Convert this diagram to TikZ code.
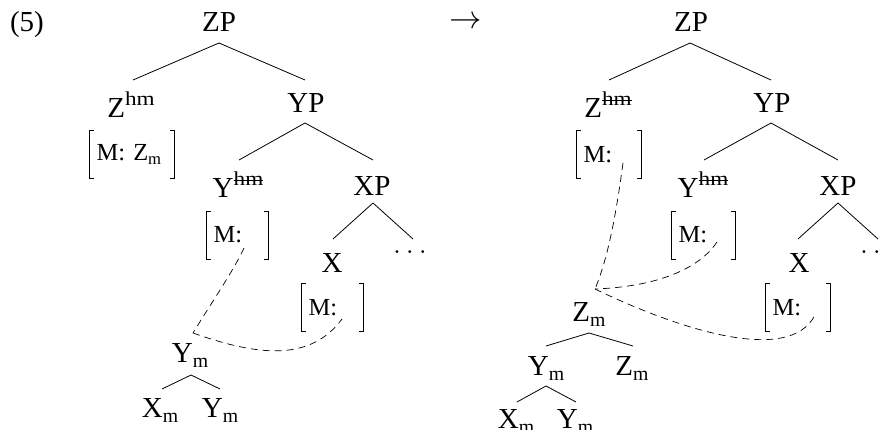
\documentclass[tikz,border=0pt]{standalone}
\usepackage{fontspec}
\setmainfont{Liberation Serif}
\usetikzlibrary{calc}
\newcommand\hiscript[1]{\raisebox{0.42em}{\scalebox{0.8}[0.68]{#1}}}
\newcommand\loscript[1]{\raisebox{-0.15em}{\scalebox{0.68}{#1}}}
\newcommand\strikeit[1]{\setbox0\hbox{#1}\rlap{\rule[0.25em]{\wd0}{0.07em}}\box0}
\newcommand\mydots{\scalebox{1.18}{$\ldots$}}
\begin{document}
\begin{tikzpicture}[x=1pt,y=-1pt,line width=0.8pt,
  lab/.style={font=\fontsize{29}{30}\selectfont, inner sep=0pt, anchor=base},
  brk/.style={font=\fontsize{24.5}{26}\selectfont, inner xsep=6.5pt, inner ysep=0pt,
              minimum height=47pt, align=left, anchor=center},
  dsh/.style={dash pattern=on 7pt off 5pt, line width=0.7pt}]
\useasboundingbox (0,0) rectangle (887,430);

% ---------- left tree ----------
\node[lab] (num) at (27,32) {(5)};
\node[lab] (zp) at (219,32) {ZP};
\node[lab] (zhm) at (131,118) {Z\hiscript{hm}};
\node[lab] (yp) at (306,113) {YP};
\node[brk, text width=71pt] (b1) at (132,154.5) {M: Z\loscript{m}};
\node[lab] (yhm) at (238,198) {Y\hiscript{\strikeit{hm}}};
\node[lab] (xp) at (372,196) {XP};
\node[brk, text width=48pt] (b2) at (237.5,235) {M:};
\node[lab] (x) at (332,273) {X};
\node[lab] (dots) at (410,254) {\mydots};
\node[brk, text width=48pt] (b3) at (332.5,307.5) {M:};
\node[lab] (ym) at (190,363) {Y\loscript{m}};
\node[lab] (xm) at (160,418) {X\loscript{m}};
\node[lab] (ym2) at (220,418) {Y\loscript{m}};

\draw ($(zp.base)+(0,11)$) -- ($(zhm.base)+(2,-38)$);
\draw ($(zp.base)+(0,11)$) -- ($(yp.base)+(-1,-33)$);
\draw ($(yp.base)+(-1,10)$) -- ($(yhm.base)+(1,-38)$);
\draw ($(yp.base)+(-1,10)$) -- ($(xp.base)+(1,-36)$);
\draw ($(xp.base)+(1,7)$) -- ($(x.base)+(1,-34)$);
\draw ($(xp.base)+(1,7)$) -- ($(dots.base)+(3,-15)$);
\draw ($(ym.base)+(1,12)$) -- ($(xm.base)+(2,-29)$);
\draw ($(ym.base)+(1,12)$) -- ($(ym2.base)+(0,-29)$);

\coordinate (lm) at (193,333);
\draw[dsh] ($(b2.center)+(6.5,13)$) .. controls (234,270) and (210,305) .. (lm);
\draw[dsh] (lm) .. controls (258,356) and (310,362) .. ($(b3.center)+(9.5,11.5)$);

% ---------- arrow ----------
\node[font=\fontsize{24.88}{26}\selectfont, inner sep=0pt] (arr) at (466,23) {\scalebox{1.3}{$\rightarrow$}};

% ---------- right tree ----------
\node[lab] (rzp) at (691,32) {ZP};
\node[lab] (rzhm) at (608,118) {Z\hiscript{\strikeit{hm}}};
\node[lab] (ryp) at (772,113) {YP};
\node[brk, text width=51pt] (rb1) at (609,154.5) {M:};
\node[lab] (ryhm) at (703,198) {Y\hiscript{\strikeit{hm}}};
\node[lab] (rxp) at (838,196) {XP};
\node[brk, text width=50pt] (rb2) at (703.5,235) {M:};
\node[lab] (rx) at (799,273) {X};
\node[lab] (rdots) at (877,254) {\mydots};
\node[brk, text width=51pt] (rb3) at (798,307.5) {M:};
\node[lab] (rzm) at (589,322) {Z\loscript{m}};
\node[lab] (rym) at (546,376) {Y\loscript{m}};
\node[lab] (rzm2) at (632,376) {Z\loscript{m}};
\node[lab] (rxm) at (516,429) {X\loscript{m}};
\node[lab] (rym2) at (575,429) {Y\loscript{m}};

\draw ($(rzp.base)+(-1,11)$) -- ($(rzhm.base)+(1,-38)$);
\draw ($(rzp.base)+(-1,11)$) -- ($(ryp.base)+(-1,-33)$);
\draw ($(ryp.base)+(-1,10)$) -- ($(ryhm.base)+(1,-38)$);
\draw ($(ryp.base)+(-1,10)$) -- ($(rxp.base)+(0,-36)$);
\draw ($(rxp.base)+(0,7)$) -- ($(rx.base)+(-1,-34)$);
\draw ($(rxp.base)+(0,7)$) -- ($(rdots.base)+(1,-15)$);
\draw ($(rzm.base)+(0,11)$) -- ($(rym.base)+(0,-30)$);
\draw ($(rzm.base)+(0,11)$) -- ($(rzm2.base)+(1,-30)$);
\draw ($(rym.base)+(0,10)$) -- ($(rxm.base)+(1,-27)$);
\draw ($(rym.base)+(0,10)$) -- ($(rym2.base)+(1,-27)$);

\coordinate (rm) at (595,289);
\draw[dsh] ($(rb1.center)+(14,8.5)$) .. controls (616,215) and (608,258) .. (rm);
\draw[dsh] ($(rb2.center)+(13.5,7)$) .. controls (697,272) and (650,287) .. (rm);
\draw[dsh] (rm) .. controls (680,330) and (790,365) .. ($(rb3.center)+(17,7.5)$);

% ---------- brackets ----------
\foreach \b in {b1,b2,b3,rb1,rb2,rb3}{
  \draw[line width=0.7pt] ($(\b.north west)+(4,0)$) -- (\b.north west) -- (\b.south west) -- ($(\b.south west)+(4,0)$);
  \draw[line width=0.7pt] ($(\b.north east)+(-4,0)$) -- (\b.north east) -- (\b.south east) -- ($(\b.south east)+(-4,0)$);
}
\end{tikzpicture}
\end{document}
